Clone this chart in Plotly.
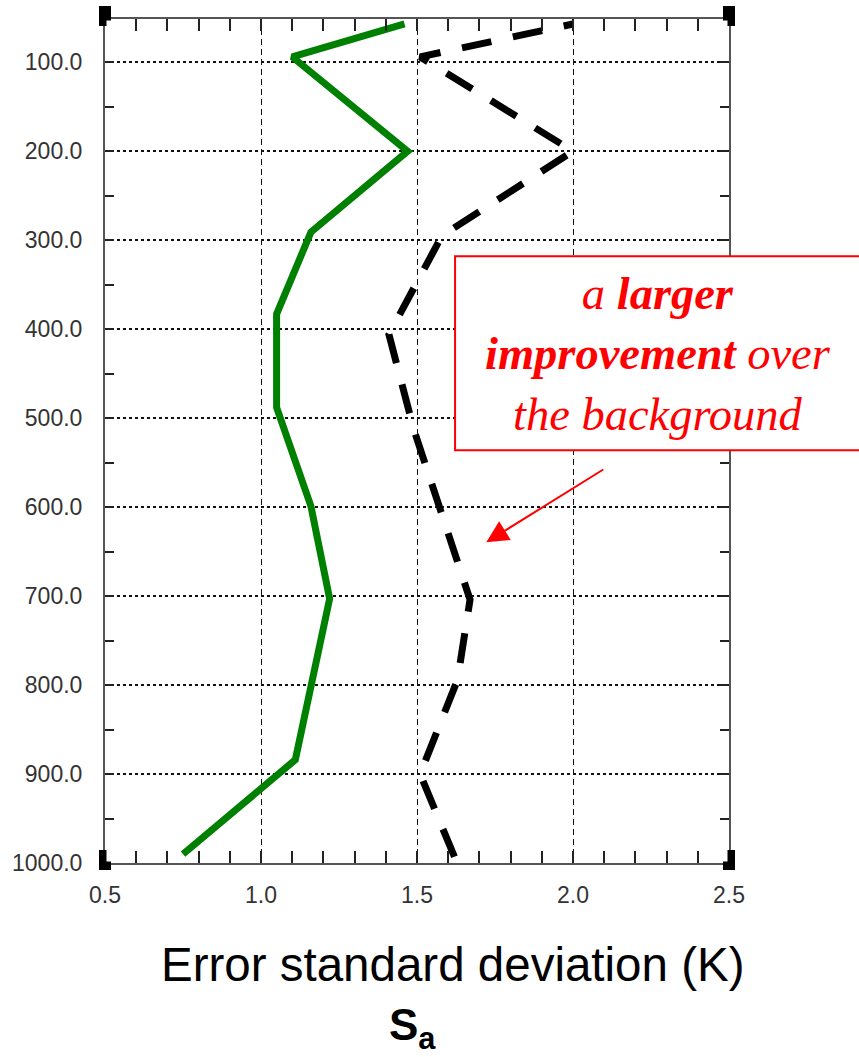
import plotly.graph_objects as go

# ---- data (pressure in hPa, error std in K) ----
analysis_p = [57, 94, 200, 291, 383, 488, 599, 703, 884, 990]
analysis_sd = [1.46, 1.10, 1.47, 1.16, 1.05, 1.05, 1.16, 1.22, 1.11, 0.75]

background_p = [993, 900, 794, 704, 513, 406, 295, 200, 94, 57]
background_sd = [1.62, 1.51, 1.63, 1.67, 1.49, 1.41, 1.58, 2.00, 1.51, 2.00]

x_ticks = [0.5, 1.0, 1.5, 2.0, 2.5]
y_ticks = [100, 200, 300, 400, 500, 600, 700, 800, 900, 1000]
x_range = [0.5, 2.5]
y_range = [1000, 51.4]

x_title = "Error standard deviation (K)"
panel_label = "<b>S<sub>a</sub></b>"
note_text = "<i>a <b>larger</b><br><b>improvement</b> over<br>the background</i>"

TICKFONT = dict(family="Liberation Sans Narrow, Liberation Sans, Arial", size=23, color="#333333")

fig = go.Figure()
fig.add_trace(go.Scatter(x=analysis_sd, y=analysis_p, mode="lines",
                         line=dict(color="#008000", width=7), hoverinfo="skip"))
fig.add_trace(go.Scatter(x=background_sd, y=background_p, mode="lines",
                         line=dict(color="#000000", width=7, dash="30px,22px"), hoverinfo="skip"))

fig.update_xaxes(range=x_range, tickvals=x_ticks, tickformat=".1f", automargin=False,
                 ticks="inside", ticklen=12, tickwidth=1.5, tickcolor="#222222",
                 showline=True, linecolor="#555555", linewidth=2, mirror="allticks",
                 showgrid=True, gridcolor="#111111", gridwidth=1.3, griddash="6px,4px",
                 minor=dict(tick0=0.5, dtick=0.1, ticks="inside", ticklen=12,
                            tickwidth=1.5, tickcolor="#222222", showgrid=False),
                 tickfont=TICKFONT, ticklabelstandoff=10, zeroline=False)
fig.update_yaxes(range=y_range, tickvals=y_ticks, tickformat=".1f", automargin=False,
                 ticks="inside", ticklen=9, tickwidth=1.5, tickcolor="#222222",
                 showline=True, linecolor="#555555", linewidth=2, mirror="allticks",
                 showgrid=True, gridcolor="#111111", gridwidth=2, griddash="3px,3px",
                 minor=dict(tick0=50, dtick=100, ticks="inside", ticklen=9,
                            tickwidth=1.5, tickcolor="#222222", showgrid=False),
                 tickfont=TICKFONT, ticklabelstandoff=16, zeroline=False)

shapes = []
# corner markers (pixel-sized, anchored at plot corners)
for ax_, ay_ in [(0, 1), (1, 1), (0, 0), (1, 0)]:
    shapes.append(dict(type="rect", xref="paper", yref="paper", xsizemode="pixel", ysizemode="pixel",
                       xanchor=ax_, yanchor=ay_, x0=-6, x1=6, y0=-7, y1=13,
                       fillcolor="black", line=dict(width=0), layer="above"))
    sx = 1 if ax_ == 0 else -1
    xs = sorted([sx * 1.5, sx * 6])
    ys = [-7, -1.5] if ay_ == 1 else [1.5, 13]
    shapes.append(dict(type="rect", xref="paper", yref="paper", xsizemode="pixel", ysizemode="pixel",
                       xanchor=ax_, yanchor=ay_, x0=xs[0], x1=xs[1], y0=ys[0], y1=ys[1],
                       fillcolor="white", line=dict(width=0), layer="above"))
# annotation box
shapes.append(dict(type="rect", xref="paper", yref="paper", x0=0.561, x1=1.215, y0=0.489, y1=0.719,
                   fillcolor="white", line=dict(color="#ff0000", width=2), layer="above"))

annotations = [
    dict(text=note_text, xref="paper", yref="paper", x=0.886, y=0.603, xanchor="center", yanchor="middle",
         showarrow=False, align="center",
         font=dict(family="Liberation Serif, Times New Roman, serif", size=46.5, color="#ff0000")),
    dict(text=" ", xref="paper", yref="paper", x=0.611, y=0.380, ax=119, ay=-74,
         showarrow=True, arrowhead=2, arrowsize=2.2, arrowwidth=2, arrowcolor="#ff0000",
         font=dict(size=2)),
    dict(text=x_title, xref="paper", yref="paper", x=0.557, y=-0.086, xanchor="center", yanchor="top",
         showarrow=False, font=dict(family="Liberation Sans, Arial", size=47.5, color="black")),
    dict(text=panel_label, xref="paper", yref="paper", x=0.492, y=-0.160, xanchor="center", yanchor="top",
         showarrow=False, font=dict(family="Liberation Sans, Arial", size=44, color="black")),
]

fig.update_layout(width=859, height=1057, margin=dict(l=105, r=130, t=19, b=194),
                  plot_bgcolor="white", paper_bgcolor="white", showlegend=False,
                  shapes=shapes, annotations=annotations)

fig.write_html("out.html", config={"displayModeBar": False},
               post_script="document.body.style.margin='0';document.body.style.overflow='hidden';")
